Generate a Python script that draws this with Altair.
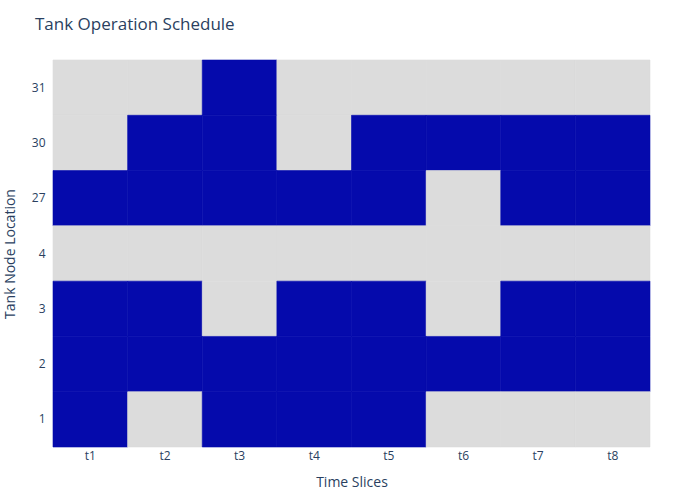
import altair as alt
import pandas as pd

time_slices = ["t1", "t2", "t3", "t4", "t5", "t6", "t7", "t8"]
nodes = ["31", "30", "27", "4", "3", "2", "1"]  # top to bottom
# 1 = operating (blue), 0 = idle (gray)
status = {
    "31": [0, 0, 1, 0, 0, 0, 0, 0],
    "30": [0, 1, 1, 0, 1, 1, 1, 1],
    "27": [1, 1, 1, 1, 1, 0, 1, 1],
    "4":  [0, 0, 0, 0, 0, 0, 0, 0],
    "3":  [1, 1, 0, 1, 1, 0, 1, 1],
    "2":  [1, 1, 1, 1, 1, 1, 1, 1],
    "1":  [1, 0, 1, 1, 1, 0, 0, 0],
}

rows = []
for n in nodes:
    for t, v in zip(time_slices, status[n]):
        rows.append({"node": n, "time": t, "value": v})
df = pd.DataFrame(rows)

FONT = "Open Sans"
TXT = "#2a3f5f"
cscale = alt.Scale(domain=[0, 1], range=["#dcdcdc", "#050aac"])

chart = (
    alt.Chart(df)
    .mark_rect(strokeWidth=0.6, opacity=1, fillOpacity=1, strokeOpacity=1)
    .encode(
        x=alt.X(
            "time:O",
            sort=time_slices,
            scale=alt.Scale(paddingInner=0, paddingOuter=0),
            axis=alt.Axis(
                title="Time Slices",
                labelAngle=0,
                domain=False,
                ticks=False,
                labelPadding=3,
                titleX=298.5,
                titleY=35,
                titleBaseline="middle",
                titleAlign="center",
            ),
        ),
        y=alt.Y(
            "node:O",
            sort=nodes,
            scale=alt.Scale(paddingInner=0, paddingOuter=0),
            axis=alt.Axis(
                title="Tank Node Location",
                domain=False,
                ticks=False,
                labelPadding=8,
                titleX=-43,
                titleY=193.5,
                titleAngle=-90,
                titleBaseline="middle",
                titleAlign="center",
            ),
        ),
        color=alt.Color("value:O", scale=cscale, legend=None),
        stroke=alt.Stroke("value:O", scale=cscale, legend=None),
    )
    .properties(
        width=597,
        height=387,
        title=alt.TitleParams(
            "Tank Operation Schedule",
            anchor="start",
            frame="group",
            dx=-18,
            offset=26,
            fontSize=17,
            font=FONT,
            fontWeight="normal",
            color=TXT,
        ),
        autosize=alt.AutoSizeParams(type="none"),
        padding={"left": 53, "top": 60, "right": 50, "bottom": 53},
    )
    .configure(background="white")
    .configure_view(stroke=None)
    .configure_axis(
        labelFont=FONT,
        labelFontSize=12,
        labelColor=TXT,
        titleFont=FONT,
        titleFontSize=14,
        titleColor=TXT,
        titleFontWeight="normal",
        grid=False,
    )
)

chart.save("out.html", embed_options={"renderer": "svg", "actions": False})
